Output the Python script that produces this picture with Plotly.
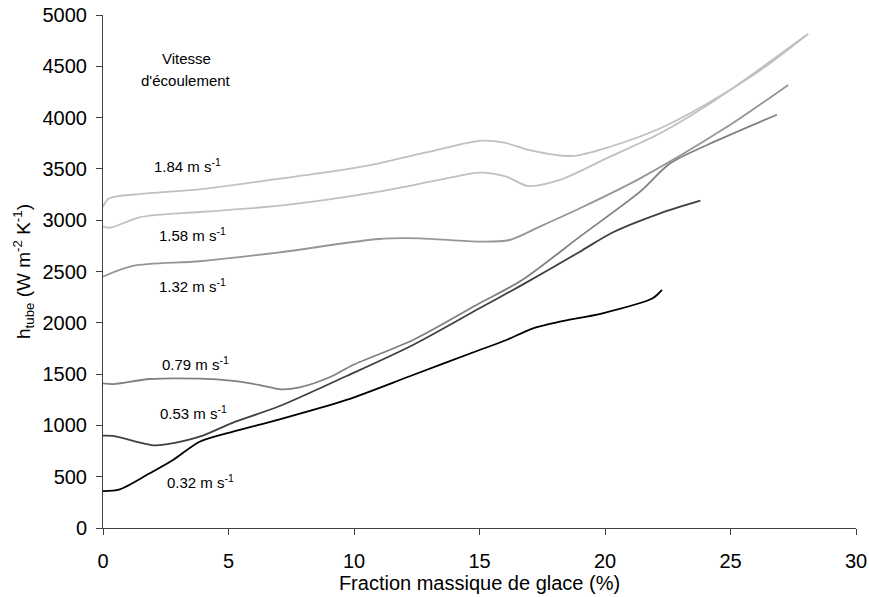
import plotly.graph_objects as go

# --- data ---
x_184 = [0, 0.25, 1.46, 3.85, 7.04, 9.0, 11.0, 13.4, 15.1, 16.0, 17.0, 18.7, 20.2, 22.2, 24.2, 26.2, 28.1]
y_184 = [3131, 3213, 3255, 3300, 3405, 3470, 3555, 3691, 3775, 3755, 3684, 3626, 3716, 3896, 4155, 4464, 4818]

x_158 = [0, 0.3, 1.46, 3.85, 7.04, 11.0, 13.4, 15.0, 16.07, 16.93, 18.2, 20.2, 22.2, 24.2, 26.2, 28.0]
y_158 = [2937, 2927, 3028, 3080, 3141, 3278, 3392, 3463, 3424, 3333, 3392, 3619, 3847, 4139, 4480, 4800]

x_132 = [0, 1.19, 3.85, 7.04, 11.0, 12.6, 15.0, 16.2, 17.4, 19.0, 21.4, 24.8, 27.3]
y_132 = [2450, 2554, 2600, 2687, 2817, 2823, 2791, 2807, 2937, 3116, 3408, 3900, 4318]

x_079 = [0, 0.4, 1.86, 3.85, 5.18, 6.2, 7.1, 7.83, 9.03, 9.96, 12.35, 15.0, 16.7, 19.0, 21.4, 22.6, 24.5, 26.85]
y_079 = [1410, 1403, 1452, 1455, 1433, 1395, 1352, 1371, 1469, 1589, 1832, 2190, 2417, 2840, 3278, 3554, 3780, 4028]

x_053 = [0, 0.4, 2.0, 2.5, 3.85, 5.18, 7.04, 9.7, 12.35, 15.0, 16.7, 19.0, 20.3, 22.2, 23.8]
y_053 = [900, 897, 806, 815, 890, 1027, 1189, 1481, 1784, 2141, 2370, 2693, 2880, 3067, 3190]

x_032 = [0, 0.67, 1.86, 2.79, 3.85, 5.18, 7.04, 9.7, 12.35, 15.0, 16.07, 17.13, 18.2, 19.9, 21.9, 22.27]
y_032 = [360, 377, 533, 663, 841, 939, 1059, 1248, 1491, 1735, 1832, 1946, 2011, 2093, 2239, 2320]

series = [
    ("1.84", x_184, y_184, "#c0c0c0"),
    ("1.58", x_158, y_158, "#c0c0c0"),
    ("1.32", x_132, y_132, "#969696"),
    ("0.79", x_079, y_079, "#808080"),
    ("0.53", x_053, y_053, "#404040"),
    ("0.32", x_032, y_032, "#000000"),
]

label_text = ["Vitesse", "d'écoulement", "1.84 m s<sup>-1</sup>", "1.58 m s<sup>-1</sup>",
              "1.32 m s<sup>-1</sup>", "0.79 m s<sup>-1</sup>", "0.53 m s<sup>-1</sup>",
              "0.32 m s<sup>-1</sup>"]
label_x = [3.32, 3.32, 3.35, 3.55, 3.55, 3.69, 3.61, 3.87]
label_y = [4578, 4366, 3538, 2856, 2368, 1605, 1124, 451]

x_ticks = [0, 5, 10, 15, 20, 25, 30]
y_ticks = [0, 500, 1000, 1500, 2000, 2500, 3000, 3500, 4000, 4500, 5000]

FONT = "Liberation Sans, Arial, sans-serif"

fig = go.Figure()
for name, xs, ys, col in series:
    fig.add_trace(go.Scatter(x=xs, y=ys, mode="lines", name=name,
                             line=dict(color=col, width=1.8, shape="spline", smoothing=0.8),
                             showlegend=False, cliponaxis=False))

for t, xv, yv in zip(label_text, label_x, label_y):
    fig.add_annotation(x=xv, y=yv, text=t, showarrow=False,
                       font=dict(family=FONT, size=15, color="#000000"))

axis_common = dict(showgrid=False, zeroline=False, showline=True, linecolor="#404040",
                   linewidth=1, ticks="outside", ticklen=6, tickcolor="#404040",
                   automargin=False, ticklabeloverflow="allow",
                   tickfont=dict(family=FONT, size=20, color="#000000"))

fig.update_xaxes(range=[0, 30], tickvals=x_ticks, ticklabelstandoff=9,
                 title=dict(text="Fraction massique de glace (%)", standoff=0,
                            font=dict(family=FONT, size=20, color="#000000")),
                 **axis_common)
fig.update_yaxes(range=[0, 5000], tickvals=y_ticks, ticklabelstandoff=5,
                 title=dict(text="h<sub>tube</sub> (W m<sup>-2</sup> K<sup>-1</sup>)", standoff=6,
                            font=dict(family=FONT, size=19, color="#000000")),
                 **axis_common)

fig.update_layout(width=869, height=597, plot_bgcolor="white", paper_bgcolor="white",
                  margin=dict(l=103, r=13, t=15, b=69), font=dict(family=FONT))

# remove the browser's default page margin so the figure fills the window exactly
fig.write_html("out.html", config={"displayModeBar": False},
               post_script="document.body.style.margin='0';document.body.style.overflow='hidden';")
